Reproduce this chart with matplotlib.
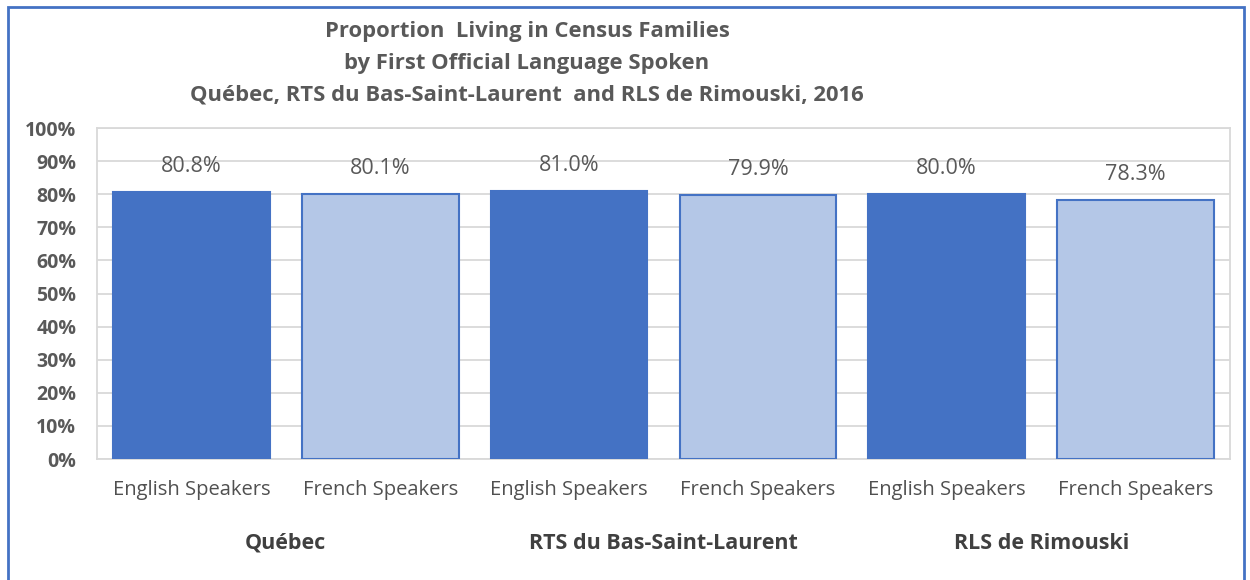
import matplotlib.pyplot as plt
from matplotlib.patches import Rectangle

# Datos del grafico
grupos = ["Québec", "RTS du Bas-Saint-Laurent", "RLS de Rimouski"]
categorias = ["English Speakers", "French Speakers"] * 3
valores = [80.8, 80.1, 81.0, 79.9, 80.0, 78.3]
etiquetas_y = ["0%", "10%", "20%", "30%", "40%", "50%", "60%", "70%", "80%", "90%", "100%"]
titulo = ("Proportion  Living in Census Families\n"
          "by First Official Language Spoken\n"
          "Québec, RTS du Bas-Saint-Laurent  and RLS de Rimouski, 2016")

plt.rcParams['font.family'] = ['Open Sans', 'DejaVu Sans']

oscuro = "#4472C4"
claro = "#B4C7E7"
gris = "#595959"

fig = plt.figure(figsize=(12.5, 5.8), dpi=100)
ax = fig.add_axes([0.0776, 0.2086, 0.9064, 0.5707])

x = list(range(len(valores)))
colores = [oscuro if i % 2 == 0 else claro for i in x]
ax.bar(x, valores, width=0.83, color=colores, edgecolor=oscuro, linewidth=1.5, zorder=3)

# Etiquetas de datos
for xi, v in zip(x, valores):
    ax.text(xi, v + 4.5, f"{v:.1f}%", ha="center", va="bottom", fontsize=15.5, color=gris)

ax.set_xlim(-0.5, len(valores) - 0.5)
ax.set_ylim(0, 100)
ax.set_yticks(range(0, 101, 10))
ax.set_yticklabels(etiquetas_y, fontsize=14, fontweight="bold", color=gris)
ax.set_xticks(x)
ax.set_xticklabels(categorias, fontsize=14.5, color="#505050")
ax.tick_params(axis="both", length=0)
ax.tick_params(axis="x", pad=15)
ax.tick_params(axis="y", pad=15)
ax.grid(axis="y", color="#D9D9D9", linewidth=1.3, zorder=0)
for s in ax.spines.values():
    s.set_color("#D9D9D9")
    s.set_linewidth(1.3)

# Nombres de grupo debajo de cada par
for i, g in enumerate(grupos):
    ax.text(2 * i + 0.5, -25.5, g, ha="center", va="center", fontsize=15.5,
            fontweight="bold", color="#404040")

fig.text(0.4216, 0.891, titulo, ha="center", va="center", fontsize=15.8,
         fontweight="bold", color=gris, linespacing=1.68)

# Borde azul de la figura
fig.patches.append(Rectangle((0.0064, -0.05), 0.9888, 1.038, transform=fig.transFigure,
                             fill=False, edgecolor=oscuro, linewidth=2))

fig.savefig("out.png", dpi=100)
